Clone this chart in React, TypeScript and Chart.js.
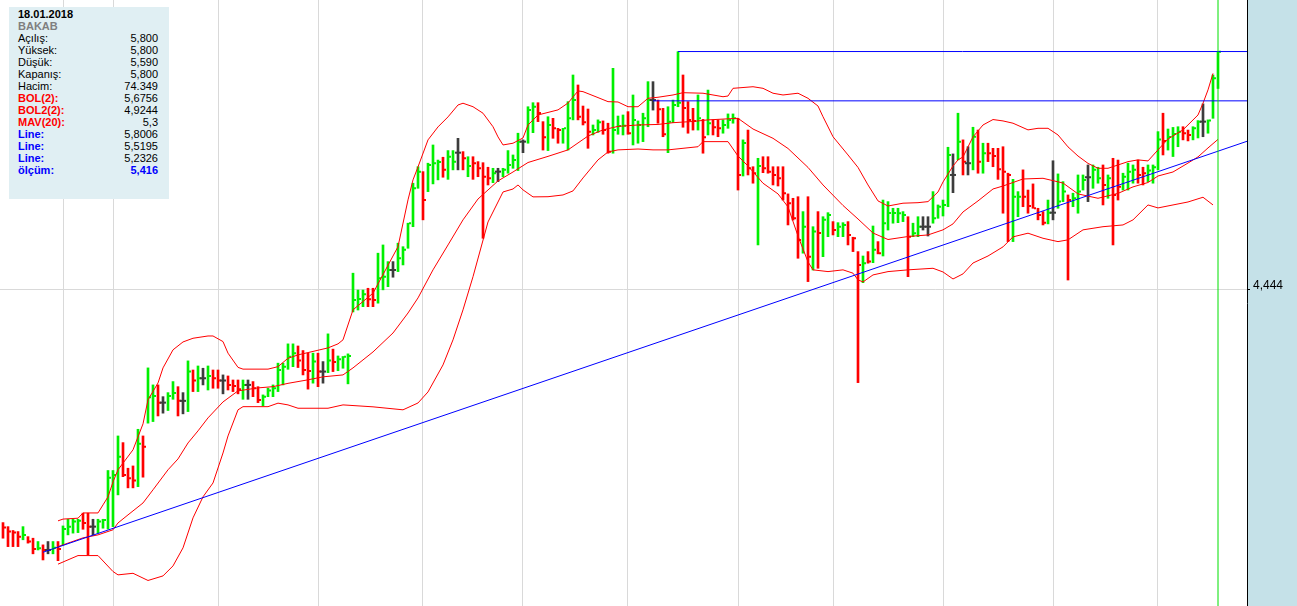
import React, { useEffect, useRef } from 'react';
import { Chart, registerables } from 'chart.js';

Chart.register(...registerables);

// ---- Price bars (one per trading day, oldest first) ----
const highs = [
  3.115, 3.092, 3.070, 3.064, 3.092, 3.035, 3.026, 3.007, 2.988, 3.007, 3.007, 3.007,
  3.096, 3.134, 3.134, 3.134, 3.169, 3.169, 3.134, 3.134, 3.134, 3.412, 3.412, 3.609,
  3.571, 3.425, 3.438, 3.647, 3.609, 3.997, 3.900, 3.900, 3.833, 3.856, 3.919, 3.890,
  3.856, 4.037, 3.985, 4.008, 3.995, 4.008, 3.985, 3.985, 3.957, 3.951, 3.928, 3.928,
  3.928, 3.928, 3.919, 3.890, 3.843, 3.881, 3.900, 4.024, 4.024, 4.134, 4.134, 4.122,
  4.096, 4.081, 4.081, 4.081, 4.033, 4.191, 4.104, 4.065, 4.062, 4.077, 4.537, 4.441,
  4.441, 4.451, 4.451, 4.651, 4.698, 4.603, 4.603, 4.708, 4.688, 4.822, 5.050, 5.144,
  5.116, 5.164, 5.268, 5.182, 5.198, 5.236, 5.236, 5.306, 5.230, 5.201, 5.201, 5.173,
  5.167, 5.141, 5.135, 5.135, 5.135, 5.236, 5.211, 5.335, 5.297, 5.486, 5.509, 5.509,
  5.401, 5.429, 5.420, 5.363, 5.363, 5.515, 5.667, 5.610, 5.490, 5.473, 5.382, 5.411,
  5.405, 5.392, 5.705, 5.433, 5.439, 5.458, 5.553, 5.405, 5.449, 5.629, 5.629, 5.524,
  5.477, 5.486, 5.524, 5.800, 5.667, 5.515, 5.477, 5.553, 5.414, 5.581, 5.411, 5.411,
  5.411, 5.445, 5.445, 5.420, 5.297, 5.353, 5.144, 5.192, 5.201, 5.201, 5.144, 5.144,
  5.144, 4.989, 4.964, 4.973, 4.888, 4.973, 4.802, 4.888, 4.859, 4.882, 4.831, 4.825,
  4.825, 4.831, 4.742, 4.660, 4.635, 4.660, 4.806, 4.717, 4.954, 4.945, 4.907, 4.907,
  4.888, 4.859, 4.822, 4.859, 4.859, 4.859, 5.002, 4.926, 4.954, 5.255, 5.217, 5.449,
  5.297, 5.258, 5.369, 5.353, 5.278, 5.278, 5.249, 5.249, 5.258, 5.107, 5.072, 5.002,
  5.126, 5.011, 5.046, 4.907, 4.888, 4.954, 5.178, 5.103, 5.059, 4.983, 4.993, 5.097,
  5.097, 5.154, 5.154, 5.141, 5.154, 5.097, 5.192, 5.182, 5.107, 5.164, 5.154, 5.182,
  5.141, 5.154, 5.154, 5.344, 5.449, 5.359, 5.368, 5.372, 5.372, 5.353, 5.372, 5.407,
  5.502, 5.411, 5.667, 5.800,
];

const lows = [
  3.026, 2.978, 2.978, 2.978, 3.017, 2.998, 2.937, 2.959, 2.902, 2.937, 2.937, 2.898,
  2.988, 3.045, 3.055, 3.058, 3.077, 2.931, 3.045, 3.055, 3.083, 3.078, 3.092, 3.273,
  3.377, 3.313, 3.313, 3.320, 3.374, 3.682, 3.691, 3.723, 3.739, 3.754, 3.818, 3.723,
  3.735, 3.748, 3.862, 3.862, 3.900, 3.871, 3.881, 3.881, 3.849, 3.871, 3.862, 3.849,
  3.818, 3.818, 3.833, 3.799, 3.780, 3.833, 3.833, 3.862, 3.900, 3.989, 4.004, 3.999,
  3.957, 3.876, 3.910, 3.890, 3.910, 3.970, 3.976, 3.981, 3.995, 3.906, 4.316, 4.327,
  4.346, 4.346, 4.346, 4.366, 4.442, 4.460, 4.514, 4.546, 4.584, 4.679, 4.802, 5.021,
  4.841, 5.002, 5.046, 5.069, 5.084, 5.072, 5.126, 5.126, 5.126, 5.087, 5.072, 5.087,
  4.736, 5.040, 5.053, 5.059, 5.087, 5.107, 5.135, 5.122, 5.224, 5.278, 5.338, 5.401,
  5.239, 5.236, 5.306, 5.278, 5.278, 5.239, 5.411, 5.411, 5.382, 5.249, 5.325, 5.340,
  5.329, 5.221, 5.221, 5.329, 5.325, 5.329, 5.268, 5.278, 5.287, 5.372, 5.467, 5.392,
  5.315, 5.224, 5.395, 5.486, 5.369, 5.335, 5.353, 5.353, 5.221, 5.325, 5.325, 5.315,
  5.335, 5.363, 5.392, 5.011, 5.091, 5.097, 5.050, 4.698, 5.110, 5.107, 5.040, 5.034,
  4.954, 4.812, 4.840, 4.622, 4.651, 4.489, 4.555, 4.565, 4.631, 4.745, 4.755, 4.745,
  4.745, 4.698, 4.660, 3.913, 4.483, 4.594, 4.597, 4.647, 4.635, 4.783, 4.822, 4.825,
  4.831, 4.517, 4.745, 4.745, 4.783, 4.749, 4.822, 4.850, 4.863, 4.916, 4.996, 5.183,
  5.097, 5.097, 5.126, 5.107, 5.107, 5.173, 5.144, 5.072, 4.879, 4.717, 4.717, 4.859,
  4.916, 4.879, 4.907, 4.841, 4.812, 4.818, 4.841, 4.907, 4.945, 4.498, 4.916, 4.879,
  5.011, 4.945, 5.021, 5.050, 4.926, 4.964, 4.698, 4.954, 5.011, 5.011, 5.050, 5.050,
  5.040, 5.059, 5.050, 5.126, 5.211, 5.239, 5.202, 5.258, 5.297, 5.291, 5.297, 5.308,
  5.315, 5.335, 5.420, 5.590,
];

const closes = [
  3.087, 3.064, 3.058, 3.035, 3.045, 3.007, 2.965, 2.969, 2.959, 2.959, 2.971, 2.965,
  3.079, 3.092, 3.121, 3.125, 3.112, 3.092, 3.092, 3.121, 3.130, 3.370, 3.387, 3.491,
  3.387, 3.368, 3.355, 3.564, 3.548, 3.829, 3.837, 3.799, 3.799, 3.837, 3.854, 3.809,
  3.809, 3.976, 3.925, 3.938, 3.938, 3.951, 3.938, 3.925, 3.925, 3.900, 3.894, 3.875,
  3.900, 3.900, 3.881, 3.814, 3.832, 3.868, 3.881, 3.985, 4.004, 4.061, 4.081, 4.039,
  3.985, 3.980, 4.033, 3.976, 3.976, 4.039, 4.031, 4.046, 4.060, 4.065, 4.384, 4.390,
  4.417, 4.388, 4.384, 4.508, 4.517, 4.555, 4.555, 4.622, 4.670, 4.822, 5.021, 5.116,
  4.954, 5.154, 5.164, 5.171, 5.126, 5.201, 5.173, 5.224, 5.192, 5.148, 5.164, 5.135,
  5.087, 5.078, 5.107, 5.116, 5.126, 5.154, 5.182, 5.287, 5.287, 5.467, 5.486, 5.450,
  5.312, 5.382, 5.363, 5.353, 5.363, 5.420, 5.525, 5.429, 5.397, 5.344, 5.353, 5.397,
  5.353, 5.230, 5.353, 5.376, 5.378, 5.335, 5.411, 5.382, 5.420, 5.524, 5.524, 5.471,
  5.329, 5.401, 5.496, 5.509, 5.479, 5.411, 5.405, 5.420, 5.312, 5.392, 5.369, 5.363,
  5.382, 5.411, 5.420, 5.097, 5.279, 5.135, 5.107, 5.148, 5.135, 5.116, 5.097, 5.078,
  4.993, 4.936, 4.850, 4.726, 4.802, 4.631, 4.774, 4.766, 4.841, 4.869, 4.783, 4.802,
  4.812, 4.755, 4.736, 4.584, 4.594, 4.603, 4.670, 4.651, 4.822, 4.880, 4.880, 4.879,
  4.869, 4.745, 4.765, 4.802, 4.802, 4.802, 4.850, 4.916, 4.926, 5.211, 5.097, 5.287,
  5.173, 5.164, 5.315, 5.173, 5.221, 5.221, 5.205, 5.129, 5.116, 5.097, 4.973, 4.973,
  4.973, 4.920, 4.907, 4.869, 4.825, 4.882, 4.882, 4.945, 5.002, 4.954, 4.964, 5.002,
  5.068, 5.084, 5.126, 5.078, 5.040, 5.078, 4.983, 5.030, 5.087, 5.116, 5.126, 5.097,
  5.107, 5.122, 5.141, 5.299, 5.291, 5.314, 5.331, 5.344, 5.335, 5.325, 5.363, 5.401,
  5.401, 5.407, 5.648, 5.800,
];

// bar colour per day as seen: g = up, r = down, k = unchanged
const directions =
  'rrrrgrrgrkgr' + 'ggggrrkggggg' + 'rrrgrggrkggr' + 'kgrgkgrrkrrr' +
  'gkrrgggggggr' + 'rrgrkgrggggg' + 'grrgggkggggg' + 'rgggrggkrgrr' +
  'rrgkggggkggr' + 'rgrrgggrrrgg' + 'rrgggrggggkr' + 'rgggrrrgrgrr' +
  'gggrgrrgrrrr' + 'rrrrgrgrggrg' + 'grrrgrgrgggg' + 'grggkkggggkg' +
  'rkgrgrrrrrgg' + 'rrrrrgkggrgg' + 'gkggrgrrgggr' + 'rgggrgggrrgg' + 'kggg';

// first bar of each month (vertical grid lines)
const monthStarts = [12, 22, 43, 63, 84, 104, 125, 147, 166, 188, 210, 231];

// ---- Bollinger bands (BOL(2), MAV(20), BOL2(2)) read at sample bars ----
const upperIdx = [11, 12, 15, 16, 19, 20, 21, 22, 23, 26, 28, 29, 31, 32, 34, 36, 38, 41, 42, 44, 45, 47, 48, 53, 55, 57, 59, 62, 65, 67, 68, 70, 74, 79, 81, 82, 83, 85, 87, 89, 91, 92, 94, 96, 98, 99, 100, 102, 104, 105, 107, 111, 113, 115, 116, 119, 121, 123, 125, 127, 129, 131, 134, 136, 140, 144, 145, 146, 150, 152, 154, 156, 159, 161, 163, 164, 166, 169, 171, 173, 175, 177, 180, 183, 185, 187, 188, 190, 191, 192, 194, 196, 198, 200, 202, 205, 207, 209, 211, 213, 215, 217, 219, 221, 225, 227, 229, 231, 233, 236, 239, 240, 241, 242];
const upperVal = [3.125, 3.135, 3.140, 3.170, 3.170, 3.216, 3.262, 3.347, 3.416, 3.530, 3.678, 3.815, 3.911, 3.997, 4.100, 4.145, 4.166, 4.179, 4.179, 4.147, 4.081, 4.000, 3.990, 3.990, 4.004, 4.052, 4.071, 4.091, 4.111, 4.134, 4.157, 4.328, 4.423, 4.688, 4.955, 5.069, 5.143, 5.297, 5.371, 5.428, 5.496, 5.506, 5.486, 5.449, 5.372, 5.314, 5.268, 5.278, 5.308, 5.382, 5.439, 5.468, 5.507, 5.576, 5.572, 5.538, 5.515, 5.513, 5.486, 5.486, 5.534, 5.540, 5.553, 5.566, 5.563, 5.543, 5.547, 5.591, 5.600, 5.591, 5.563, 5.553, 5.563, 5.534, 5.490, 5.429, 5.315, 5.211, 5.140, 5.040, 4.949, 4.920, 4.936, 4.939, 4.945, 5.000, 5.057, 5.148, 5.183, 5.200, 5.314, 5.382, 5.413, 5.405, 5.392, 5.354, 5.363, 5.363, 5.325, 5.257, 5.205, 5.163, 5.135, 5.135, 5.173, 5.183, 5.177, 5.240, 5.302, 5.354, 5.439, 5.506, 5.582, 5.676];

const middleIdx = [11, 16, 19, 22, 23, 25, 28, 30, 33, 35, 37, 39, 41, 44, 47, 51, 54, 57, 61, 64, 68, 70, 74, 78, 81, 83, 86, 89, 92, 95, 99, 102, 105, 109, 113, 117, 120, 123, 127, 131, 134, 138, 141, 147, 150, 154, 157, 161, 164, 168, 171, 174, 177, 181, 185, 188, 190, 192, 195, 198, 200, 204, 208, 212, 215, 219, 223, 226, 229, 231, 234, 237, 239, 241, 243];
const middleVal = [2.978, 3.028, 3.045, 3.074, 3.113, 3.159, 3.227, 3.302, 3.416, 3.478, 3.569, 3.638, 3.712, 3.803, 3.866, 3.883, 3.890, 3.909, 3.929, 3.946, 3.957, 3.997, 4.088, 4.196, 4.310, 4.396, 4.556, 4.698, 4.841, 4.960, 5.063, 5.114, 5.168, 5.203, 5.240, 5.319, 5.354, 5.374, 5.382, 5.385, 5.395, 5.402, 5.411, 5.420, 5.359, 5.306, 5.248, 5.140, 5.040, 4.923, 4.846, 4.766, 4.729, 4.746, 4.755, 4.784, 4.818, 4.886, 4.949, 5.017, 5.034, 5.074, 5.078, 5.051, 4.989, 4.964, 4.992, 5.029, 5.054, 5.091, 5.114, 5.165, 5.200, 5.251, 5.300];

const lowerIdx = [11, 15, 19, 22, 23, 26, 29, 32, 34, 36, 38, 40, 42, 44, 45, 47, 48, 53, 55, 57, 59, 65, 68, 74, 80, 83, 85, 88, 90, 92, 94, 97, 100, 102, 103, 104, 106, 109, 112, 114, 116, 119, 121, 123, 127, 130, 133, 136, 139, 140, 145, 147, 149, 152, 155, 157, 159, 161, 162, 165, 168, 170, 171, 172, 174, 177, 181, 186, 188, 190, 192, 194, 197, 200, 202, 205, 208, 211, 213, 216, 220, 224, 226, 229, 231, 234, 237, 240, 242];
const lowerVal = [2.878, 2.927, 2.927, 2.836, 2.817, 2.826, 2.785, 2.811, 2.868, 2.971, 3.142, 3.262, 3.341, 3.512, 3.609, 3.758, 3.776, 3.776, 3.796, 3.786, 3.767, 3.767, 3.786, 3.775, 3.758, 3.797, 3.860, 4.014, 4.157, 4.328, 4.517, 4.829, 5.000, 5.017, 5.040, 5.012, 4.972, 4.973, 4.983, 5.006, 5.080, 5.183, 5.228, 5.240, 5.245, 5.240, 5.240, 5.249, 5.258, 5.287, 5.287, 5.205, 5.148, 5.050, 4.989, 4.915, 4.749, 4.601, 4.556, 4.546, 4.556, 4.537, 4.499, 4.487, 4.527, 4.546, 4.556, 4.565, 4.544, 4.504, 4.533, 4.595, 4.635, 4.687, 4.744, 4.765, 4.736, 4.717, 4.727, 4.784, 4.802, 4.812, 4.841, 4.926, 4.909, 4.926, 4.943, 4.970, 4.926];

// ---- Drawn lines ----
const trendIdx = [8, 248.8];
const trendVal = [2.946, 5.289];
const levelStartIdx = [135, 130];
const levelVal = [5.8006, 5.5195];
const cursorIdx = 243;

// ---- Axes ----
const xMin = -0.6;
const xMax = 248.8;
const yMin = 2.6395;
const yMax = 6.0945;
const yTickValues = [4.444];

// ---- Info panel ----
const infoDate = '18.01.2018';
const infoSymbol = 'BAKAB';
const infoLabels = ['Açılış:', 'Yüksek:', 'Düşük:', 'Kapanış:', 'Hacim:', 'BOL(2):', 'BOL2(2):', 'MAV(20):', 'Line:', 'Line:', 'Line:', 'ölçüm:'];
const infoValues = ['5,800', '5,800', '5,590', '5,800', '74.349', '5,6756', '4,9244', '5,3', '5,8006', '5,5195', '5,2326', '5,416'];
const infoKinds = ['n', 'n', 'n', 'n', 'n', 'r', 'r', 'r', 'b', 'b', 'b', 'm'];

const GREEN = '#00f000';
const RED = '#ff0000';
const DARK = '#3c3c3c';
const BLUE = '#0000ff';
const colorOf = (d: string) => (d === 'g' ? GREEN : d === 'r' ? RED : DARK);

const panelPlugin = {
  id: 'rightPanel',
  beforeDraw(chart: any) {
    const { ctx, chartArea, width, height } = chart;
    ctx.save();
    ctx.fillStyle = '#ffffff';
    ctx.fillRect(0, 0, chartArea.right, height);
    ctx.fillStyle = '#c5e1e8';
    ctx.fillRect(chartArea.right, 0, width - chartArea.right, height);
    ctx.restore();
  },
};

export default function App() {
  const ref = useRef<HTMLCanvasElement | null>(null);

  useEffect(() => {
    document.body.style.margin = '0';
    const canvas = ref.current;
    if (!canvas) return;
    const dirs = directions.split('');
    const barColors = dirs.map(colorOf);

    const line = (data: any[], color: string, order = 1) => ({
      type: 'line',
      data,
      borderColor: color,
      borderWidth: 1,
      pointRadius: 0,
      tension: 0,
      fill: false,
      order,
    });

    const chart = new Chart(canvas, {
      type: 'line',
      data: {
        datasets: [
          {
            type: 'bar',
            data: highs.map((h, i) => ({ x: i, y: [lows[i], h] })),
            backgroundColor: barColors,
            borderWidth: 0,
            barThickness: 2,
            grouped: false,
            order: 10,
          } as any,
          {
            type: 'line',
            showLine: false,
            data: closes.map((c, i) => ({ x: dirs[i] === 'k' ? i : i + 0.4, y: c })),
            pointStyle: 'line',
            pointRadius: dirs.map((d) => (d === 'k' ? 3 : 1)),
            pointBorderWidth: 2,
            pointBorderColor: barColors,
            pointBackgroundColor: barColors,
            order: 9,
          } as any,
          line(upperIdx.map((x, k) => ({ x, y: upperVal[k] })), RED, 3),
          line(middleIdx.map((x, k) => ({ x, y: middleVal[k] })), RED, 3),
          line(lowerIdx.map((x, k) => ({ x, y: lowerVal[k] })), RED, 3),
          line(trendIdx.map((x, k) => ({ x, y: trendVal[k] })), BLUE, 2),
          line([{ x: levelStartIdx[0], y: levelVal[0] }, { x: xMax, y: levelVal[0] }], BLUE, 2),
          line([{ x: levelStartIdx[1], y: levelVal[1] }, { x: xMax, y: levelVal[1] }], BLUE, 2),
          line([{ x: cursorIdx, y: yMin }, { x: cursorIdx, y: yMax }], '#00e000', 1),
        ] as any,
      },
      options: {
        animation: false,
        responsive: false,
        devicePixelRatio: 1,
        events: [],
        layout: { padding: 0, autoPadding: false },
        plugins: { legend: { display: false }, tooltip: { enabled: false }, title: { display: false } },
        scales: {
          x: {
            type: 'linear',
            min: xMin,
            max: xMax,
            offset: false,
            afterBuildTicks: (s: any) => {
              s.ticks = monthStarts.map((v) => ({ value: v }));
            },
            afterFit: (s: any) => {
              s.height = 0;
              s.paddingLeft = 0;
              s.paddingRight = 0;
            },
            ticks: { display: false },
            border: { display: false },
            grid: { color: '#d9d9d9', drawTicks: false, offset: false, lineWidth: 1 },
          },
          y: {
            type: 'linear',
            position: 'right',
            min: yMin,
            max: yMax,
            afterBuildTicks: (s: any) => {
              s.ticks = yTickValues.map((v) => ({ value: v }));
            },
            afterFit: (s: any) => {
              s.width = 50;
              s.paddingTop = 0;
              s.paddingBottom = 0;
            },
            ticks: {
              color: '#000',
              padding: 3,
              labelOffset: -4,
              font: { family: "'Liberation Sans', Arial, sans-serif", size: 12 },
              callback: (v: any) => Number(v).toFixed(3).replace('.', ','),
            },
            border: { display: true, color: '#000', width: 1 },
            grid: { color: '#d9d9d9', tickColor: '#000', tickLength: 3, drawTicks: true },
          },
        },
      } as any,
      plugins: [panelPlugin],
    });
    return () => chart.destroy();
  }, []);

  const font = "'Liberation Sans', Arial, sans-serif";
  const labelStyle = (k: string): React.CSSProperties => {
    if (k === 'r') return { color: '#ff0000', fontWeight: 'bold' };
    if (k === 'b' || k === 'm') return { color: '#0000ff', fontWeight: 'bold' };
    return { color: '#000' };
  };
  const valueStyle = (k: string): React.CSSProperties =>
    k === 'm' ? { color: '#0000ff', fontWeight: 'bold' } : { color: '#000' };

  return (
    <div style={{ position: 'relative', width: 1297, height: 606, overflow: 'hidden' }}>
      <canvas ref={ref} width={1297} height={606} style={{ display: 'block', width: 1297, height: 606 }} />
      <div
        style={{
          position: 'absolute',
          left: 9,
          top: 7,
          width: 160,
          height: 192,
          background: '#e0eff3',
          fontFamily: font,
          fontSize: 11,
          lineHeight: '12px',
          boxSizing: 'border-box',
          padding: '1px 11px 0 9px',
        }}
      >
        <div style={{ fontWeight: 'bold', color: '#000' }}>{infoDate}</div>
        <div style={{ fontWeight: 'bold', color: '#7f7f7f' }}>{infoSymbol}</div>
        {infoLabels.map((lab, k) => (
          <div key={k} style={{ display: 'flex', justifyContent: 'space-between' }}>
            <span style={labelStyle(infoKinds[k])}>{lab}</span>
            <span style={valueStyle(infoKinds[k])}>{infoValues[k]}</span>
          </div>
        ))}
      </div>
    </div>
  );
}
